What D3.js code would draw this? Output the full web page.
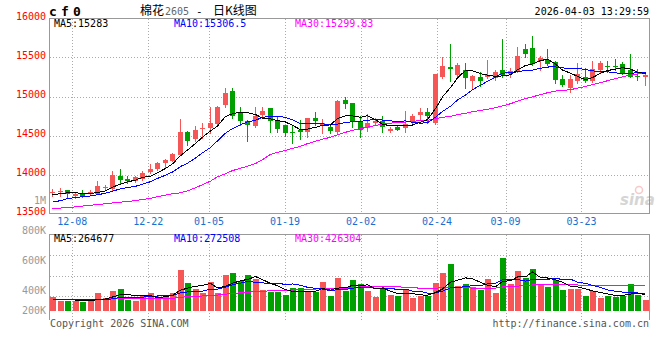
<!DOCTYPE html>
<html><head><meta charset="utf-8">
<script src="https://cdn.jsdelivr.net/npm/d3@7"></script>
<style>body{margin:0;background:#fff}svg{display:block}</style>
</head><body>
<svg id="c" width="660" height="360"></svg>
<script>
// ---------- data ----------
const dates = ["2025-12-03","2025-12-04","2025-12-05","2025-12-08","2025-12-09","2025-12-10","2025-12-11","2025-12-12","2025-12-15","2025-12-16",
"2025-12-17","2025-12-18","2025-12-19","2025-12-22","2025-12-23","2025-12-24","2025-12-25","2025-12-26","2025-12-29","2025-12-30",
"2025-12-31","2026-01-05","2026-01-06","2026-01-07","2026-01-08","2026-01-09","2026-01-12","2026-01-13","2026-01-14","2026-01-15",
"2026-01-16","2026-01-19","2026-01-20","2026-01-21","2026-01-22","2026-01-23","2026-01-26","2026-01-27","2026-01-28","2026-01-29",
"2026-01-30","2026-02-02","2026-02-03","2026-02-04","2026-02-05","2026-02-06","2026-02-09","2026-02-10","2026-02-11","2026-02-12",
"2026-02-13","2026-02-24","2026-02-25","2026-02-26","2026-02-27","2026-03-02","2026-03-03","2026-03-04","2026-03-05","2026-03-06",
"2026-03-09","2026-03-10","2026-03-11","2026-03-12","2026-03-13","2026-03-16","2026-03-17","2026-03-18","2026-03-19","2026-03-20",
"2026-03-23","2026-03-24","2026-03-25","2026-03-26","2026-03-27","2026-03-30","2026-03-31","2026-04-01","2026-04-02","2026-04-03"];

const opens = [13770,13780,13795,13720,13760,13745,13755,13840,13820,13980,
13940,13920,13945,14030,14065,14150,14175,14250,14545,14455,
14580,14595,14650,14885,15065,14800,14680,14625,14765,14850,
14690,14635,14550,14565,14540,14730,14635,14605,14550,14955,
14915,14670,14595,14655,14680,14560,14615,14595,14680,14765,
14800,14660,15245,15375,15280,15335,15205,15250,15245,15235,
15340,15285,15330,15605,15620,15450,15470,15440,15220,15115,
15200,15245,15200,15340,15395,15395,15415,15335,15265,15250];

const highs = [13820,13830,13800,13760,13795,13795,13915,13860,14045,14070,
13980,13980,14045,14135,14165,14200,14275,14710,14560,14625,
14660,14870,14875,15105,15105,14860,14700,14870,14860,14855,
14745,14640,14635,14700,14730,14800,14715,14635,14950,15000,
14920,14745,14775,14720,14745,14615,14635,14815,14775,14850,
14850,15290,15500,15675,15425,15425,15280,15320,15470,15340,
15735,15370,15640,15675,15780,15515,15605,15455,15280,15270,
15425,15365,15450,15460,15460,15480,15440,15545,15350,15300];

const lows = [13720,13730,13705,13705,13710,13735,13745,13820,13795,13875,
13885,13910,13935,14015,14055,14080,14170,14245,14380,14425,
14465,14530,14635,14870,14730,14635,14425,14615,14720,14550,
14545,14500,14400,14455,14485,14635,14530,14530,14530,14850,
14615,14485,14560,14645,14545,14545,14565,14550,14660,14715,
14660,14650,15235,15200,15255,15105,15100,15130,15235,15215,
15255,15255,15320,15500,15405,15340,15405,15170,15130,15055,
15170,15190,15190,15320,15320,15335,15285,15245,15215,15150];

const closes = [13780,13790,13745,13750,13725,13775,13850,13845,13990,13925,
13915,13965,14020,14065,14150,14185,14260,14545,14430,14565,
14590,14660,14860,15045,14745,14680,14630,14745,14815,14690,
14585,14530,14530,14540,14730,14690,14660,14560,14945,14905,
14680,14575,14660,14690,14615,14585,14575,14645,14750,14800,
14745,15285,15395,15355,15405,15235,15265,15200,15270,15310,
15280,15330,15520,15545,15415,15490,15420,15215,15150,15220,
15285,15205,15350,15435,15390,15375,15300,15255,15245,15280];

const volumes = [256000,184000,184000,179000,167000,179000,321000,226000,357000,393000,
196000,179000,280000,321000,226000,262000,321000,732000,500000,399000,
321000,518000,321000,643000,679000,536000,643000,571000,375000,339000,
339000,286000,411000,405000,333000,333000,518000,268000,595000,357000,
554000,482000,357000,256000,393000,286000,274000,369000,238000,268000,
268000,506000,685000,839000,446000,482000,423000,375000,571000,321000,
952000,482000,714000,583000,750000,464000,435000,554000,375000,393000,
393000,274000,357000,232000,274000,256000,268000,482000,286000,196000];

// moving-average values before enough visible history exists (null = not drawn)
const ma5Head  = [13740,13755,13765,13765];
const ma10Head = [13645,13665,13690,13705,13715,13725,13740,13760,13785];
const ma30Head = [13565,13570,13575,13585,13595,13605,13615,13625,13635,13645,
13655,13665,13680,13695,13715,13735,13755,13765,13790,13830,
13870,13915,13970,14010,14050,14080,14105,14140,14190];
const vma5Head  = [null,null,null,190000];
const vma10Head = [205000,205000,205000,205000,205000,206000,207000,210000,215000];
const vma30Head = [208000,208000,209000,209000,210000,210000,212000,213000,215000,217000,
217000,218000,220000,222000,223000,225000,227000,245000,255000,262000,
268000,278000,285000,300000,315000,325000,335000,345000,352000];

const priceTicks = [13500,14000,14500,15000,15500,16000];
const volTickValues = [800000,600000,400000,200000];
const volTickLabels = ["800K","600K","400K","200K"];
const dateTicks = ["2025-12-08","2025-12-22","2026-01-05","2026-01-19","2026-02-02","2026-02-24","2026-03-09","2026-03-23"];
const dateTickLabels = ["12-08","12-22","01-05","01-19","02-02","02-24","03-09","03-23"];

const titleName = "棉花", titleCode = "2605", titleKind = "日K线图";
const symbolText = ["c","f","0"];
const stamp = "2026-04-03 13:29:59";
const priceLegend = ["MA5:15283","MA10:15306.5","MA30:15299.83"];
const volLegend = ["MA5:264677","MA10:272508","MA30:426304"];

// ---------- setup ----------
const UP = "#f65656", DOWN = "#00a000";
const MA_COLORS = ["#000000","#0000ff","#ff00ff"];
const GRID = "#aaaaaa", BORDER = "#999999";
const MONO = "'DejaVu Sans Mono', monospace";
const svg = d3.select("#c");
const L = 50, R = 650;
const mTop = 18.5, mBot = 213.5, vTop = 234.5, vBot = 316.5;

const x = d3.scaleBand().domain(dates).range([L, R]);
const xGrid = d3.scaleLinear().domain([0, dates.length - 1]).range([49.5, 649.9]);
const yP = d3.scaleLinear().domain([13500, 16000]).range([mBot, mTop]);
const yV = d3.scaleLinear().domain([0, 1000000]).range([311, 255]);
const yVLabel = d3.scaleLinear().domain([200000, 800000]).range([324, 234]);

const cx = d => Math.round(x(d)) + 2.5;

function movingAvg(vals, n, head) {
  return vals.map((v, i) => i >= n - 1 ? d3.mean(vals.slice(i - n + 1, i + 1)) : head[i]);
}
const maP = [movingAvg(closes, 5, ma5Head), movingAvg(closes, 10, ma10Head), movingAvg(closes, 30, ma30Head)];
const maV = [movingAvg(volumes, 5, vma5Head), movingAvg(volumes, 10, vma10Head), movingAvg(volumes, 30, vma30Head)];

const grid = svg.append("g").attr("shape-rendering", "crispEdges");
grid.selectAll("line.hp").data(priceTicks.slice(1, -1)).join("line")
  .attr("x1", L).attr("x2", R).attr("y1", d => Math.round(yP(d)) + 0.5).attr("y2", d => Math.round(yP(d)) + 0.5)
  .attr("stroke", GRID).attr("stroke-dasharray", "1,2");
grid.selectAll("line.hv").data([1, 2, 3]).join("line")
  .attr("x1", L).attr("x2", R)
  .attr("y1", k => Math.round(vTop + (vBot - vTop) * k / 4) + 0.5).attr("y2", k => Math.round(vTop + (vBot - vTop) * k / 4) + 0.5)
  .attr("stroke", GRID).attr("stroke-dasharray", "1,2");
const tickIdx = dateTicks.map(d => dates.indexOf(d));
grid.selectAll("line.vm").data(tickIdx).join("line")
  .attr("x1", i => Math.round(xGrid(i)) + 0.5).attr("x2", i => Math.round(xGrid(i)) + 0.5)
  .attr("y1", mTop).attr("y2", mBot).attr("stroke", GRID).attr("stroke-dasharray", "1,2");
grid.selectAll("line.vv").data(tickIdx).join("line")
  .attr("x1", i => Math.round(xGrid(i)) + 0.5).attr("x2", i => Math.round(xGrid(i)) + 0.5)
  .attr("y1", vTop).attr("y2", 320).attr("stroke", GRID).attr("stroke-dasharray", "1,2");

const bord = svg.append("g").attr("shape-rendering", "crispEdges").attr("fill", "none").attr("stroke", BORDER);
bord.append("rect").attr("x", 49.5).attr("y", mTop).attr("width", 600).attr("height", mBot - mTop);
bord.append("path").attr("d", `M49.5,320V${vTop}H649.5V320`);

const wm = svg.append("g").attr("opacity", 0.35);
wm.append("text").attr("x", 620).attr("y", 205).attr("font-family", "'DejaVu Sans', sans-serif")
  .attr("font-size", 15).attr("font-style", "italic").attr("font-weight", "bold").attr("fill", "#888").text("sina");
wm.append("circle").attr("cx", 639).attr("cy", 190).attr("r", 3.5).attr("fill", "none").attr("stroke", "#e66").attr("stroke-width", 1.5);

const candles = dates.map((d, i) => ({ d, o: opens[i], h: highs[i], l: lows[i], c: closes[i], v: volumes[i] }));
const cg = svg.append("g").attr("shape-rendering", "crispEdges");
cg.selectAll("line").data(candles).join("line")
  .attr("x1", d => cx(d.d)).attr("x2", d => cx(d.d))
  .attr("y1", d => Math.round(yP(d.h))).attr("y2", d => Math.round(yP(d.l)) + 1)
  .attr("stroke", d => d.c >= d.o ? UP : DOWN);
cg.selectAll("rect").data(candles).join("rect")
  .attr("x", d => Math.round(x(d.d))).attr("width", 5)
  .attr("y", d => Math.round(yP(Math.max(d.o, d.c))))
  .attr("height", d => Math.max(1, Math.round(yP(Math.min(d.o, d.c))) - Math.round(yP(Math.max(d.o, d.c)))))
  .attr("fill", d => d.c >= d.o ? UP : DOWN);

const vg = svg.append("g").attr("shape-rendering", "crispEdges");
vg.selectAll("rect").data(candles).join("rect")
  .attr("x", d => Math.round(x(d.d))).attr("width", 6)
  .attr("y", d => Math.round(yV(d.v))).attr("height", d => Math.round(yV(0)) - Math.round(yV(d.v)))
  .attr("fill", d => d.c >= d.o ? UP : DOWN);

const lineP = d3.line().defined(v => v != null).x((v, i) => cx(dates[i])).y(v => yP(v));
const lineV = d3.line().defined(v => v != null).x((v, i) => cx(dates[i])).y(v => yV(v));
const mg = svg.append("g").attr("fill", "none").attr("shape-rendering", "crispEdges");
[2, 1, 0].forEach(k => {
  mg.append("path").attr("d", lineP(maP[k])).attr("stroke", MA_COLORS[k]).attr("stroke-width", 1);
  mg.append("path").attr("d", lineV(maV[k])).attr("stroke", MA_COLORS[k]).attr("stroke-width", 1);
});

const txt = svg.append("g").attr("font-family", MONO).attr("font-size", 10);
txt.selectAll("text.py").data(priceTicks).join("text")
  .attr("x", 46).attr("y", d => yP(d) + 1.5).attr("text-anchor", "end").attr("fill", "#ff0000").text(d => d);
txt.selectAll("text.vy").data(volTickValues).join("text")
  .attr("x", 46).attr("y", d => Math.min(314, yVLabel(d))).attr("text-anchor", "end").attr("fill", "#999999")
  .text((d, i) => volTickLabels[i]);
txt.append("text").attr("x", 46).attr("y", 204).attr("text-anchor", "end").attr("fill", "#999999").text("1M");
txt.selectAll("text.dx").data(tickIdx).join("text")
  .attr("x", i => xGrid(i)).attr("y", 224.5).attr("text-anchor", "middle").attr("fill", "#1a6fd0")
  .text((d, i) => dateTickLabels[i]);

const legX = [54, 174, 295];
priceLegend.forEach((t, k) => txt.append("text").attr("x", legX[k]).attr("y", 27).attr("fill", MA_COLORS[k]).text(t));
volLegend.forEach((t, k) => txt.append("text").attr("x", legX[k]).attr("y", 242).attr("fill", MA_COLORS[k]).text(t));

const sym = svg.append("text").attr("y", 16).attr("font-family", MONO).attr("font-size", 13).attr("font-weight", "bold").attr("fill", "#000");
symbolText.forEach((s, k) => sym.append("tspan").attr("x", 49 + k * 12).text(s));
svg.append("text").attr("x", 140).attr("y", 15).attr("font-family", "'Noto Sans CJK SC', sans-serif").attr("font-size", 12).text(titleName);
svg.append("text").attr("x", 165).attr("y", 15).attr("font-family", MONO).attr("font-size", 10).attr("fill", "#666").text(titleCode);
svg.append("text").attr("x", 196).attr("y", 15).attr("font-family", MONO).attr("font-size", 11).text("-");
svg.append("text").attr("x", 213).attr("y", 15).attr("font-family", "'Noto Sans CJK SC', sans-serif").attr("font-size", 12).text(titleKind);
txt.append("text").attr("x", 649).attr("y", 15).attr("text-anchor", "end").attr("fill", "#000").text(stamp);

txt.append("text").attr("x", 50).attr("y", 327).attr("fill", "#555").text("Copyright 2026 SINA.COM");
txt.append("text").attr("x", 649).attr("y", 327).attr("text-anchor", "end").attr("fill", "#555").text("http://finance.sina.com.cn");
</script>
</body></html>
